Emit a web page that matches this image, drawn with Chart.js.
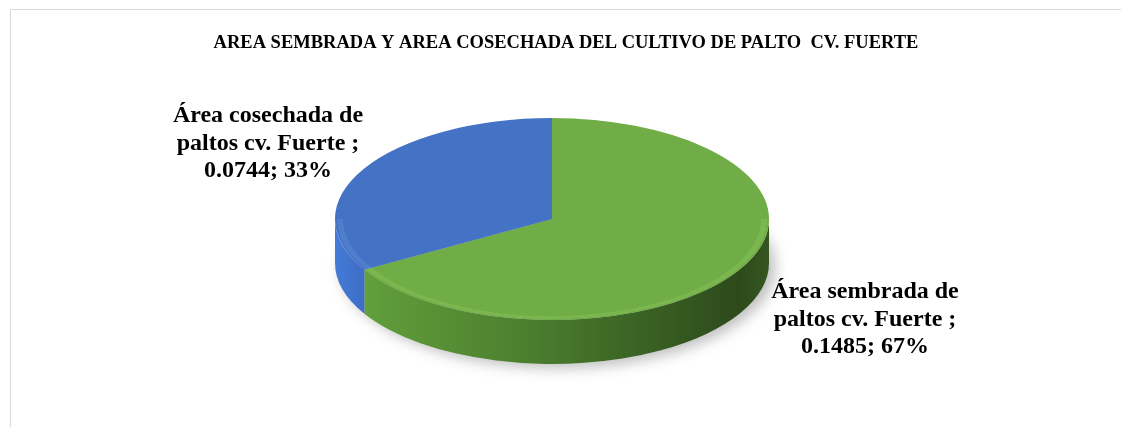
<!DOCTYPE html>
<html>
<head>
<meta charset="utf-8">
<script src="https://cdn.jsdelivr.net/npm/chart.js@4.4.1/dist/chart.umd.min.js"></script>
<style>
    body { margin: 0; background: #fff; }
    #marco { position: absolute; left: 10px; top: 9px; width: 1200px; height: 500px; border: 1px solid #d9d9d9; pointer-events: none; }
    #grafico { position: absolute; left: 0; top: 0; }
</style>
</head>
<body>
<canvas id="grafico" width="1121" height="427"></canvas>
<div id="marco"></div>
<script>
// datos
var titulo = 'AREA SEMBRADA Y AREA COSECHADA DEL CULTIVO DE PALTO  CV. FUERTE';
var categorias = ['Área sembrada de paltos cv. Fuerte', 'Área cosechada de paltos cv. Fuerte'];
var lineasCategoria = [['Área sembrada de', 'paltos cv. Fuerte ;'], ['Área cosechada de', 'paltos cv. Fuerte ;']];
var areas = [0.1485, 0.0744];
var colores = ['#70ad47', '#4472c4'];

// posiciones / estilo del "3D"
var centroX = 552, centroY = 219, aplastado = 0.465, profundidad = 44;
var posEtiquetas = [{ x: 865, y: 298 }, { x: 268, y: 122 }];

function gradienteLado(ctx, i, r) {
    var g = ctx.createLinearGradient(centroX - r, 0, centroX + r, 0);
    if (i === 0) {
        g.addColorStop(0, '#68a840');
        g.addColorStop(0.12, '#5e9a39');
        g.addColorStop(0.45, '#4b7e2e');
        g.addColorStop(0.75, '#385d22');
        g.addColorStop(0.93, '#2d4a1b');
        g.addColorStop(1, '#35561f');
    } else {
        g.addColorStop(0, '#447bd8');
        g.addColorStop(0.08, '#3c6bc2');
        g.addColorStop(1, '#2f5598');
    }
    return g;
}

function punto(a, r, dy) {
    return [centroX + r * Math.cos(a), centroY + r * aplastado * Math.sin(a) + dy];
}

// recorta [a0,a1] a la mitad frontal del pastel (0..PI)
function tramosFrente(a0, a1) {
    var res = [];
    for (var k = -1; k <= 1; k++) {
        var lo = Math.max(a0, 2 * Math.PI * k), hi = Math.min(a1, 2 * Math.PI * k + Math.PI);
        if (hi > lo) res.push([lo, hi]);
    }
    return res;
}

var pastel3d = {
    id: 'pastel3d',
    beforeDatasetsDraw: function(chart) {
        var ctx = chart.ctx;
        var arcos = chart.getDatasetMeta(0).data;
        var r = arcos[0].outerRadius;

        ctx.save();
        // sombra
        ctx.save();
        ctx.filter = 'blur(7px)';
        ctx.fillStyle = 'rgba(90,90,90,0.4)';
        ctx.beginPath();
        ctx.ellipse(centroX + 6, centroY + profundidad + 4, r, r * aplastado, 0, 0, 2 * Math.PI);
        ctx.fill();
        ctx.restore();

        // lados
        arcos.forEach(function(arco, i) {
            tramosFrente(arco.startAngle, arco.endAngle).forEach(function(t) {
                var p0 = punto(t[0], r, 0), p1 = punto(t[1], r, profundidad);
                ctx.beginPath();
                ctx.moveTo(p0[0], p0[1]);
                ctx.ellipse(centroX, centroY, r, r * aplastado, 0, t[0], t[1], false);
                ctx.lineTo(p1[0], p1[1]);
                ctx.ellipse(centroX, centroY + profundidad, r, r * aplastado, 0, t[1], t[0], true);
                ctx.closePath();
                ctx.fillStyle = gradienteLado(ctx, i, r);
                ctx.fill();
            });
        });

        // cara superior: se aplasta lo que dibuja Chart.js
        ctx.translate(centroX, centroY);
        ctx.scale(1, aplastado);
        ctx.translate(-arcos[0].x, -arcos[0].y);
    },
    afterDatasetsDraw: function(chart) {
        var ctx = chart.ctx;
        var arcos = chart.getDatasetMeta(0).data;
        // brillo del borde frontal
        arcos.forEach(function(arco, i) {
            tramosFrente(arco.startAngle, arco.endAngle).forEach(function(t) {
                ctx.beginPath();
                ctx.arc(arco.x, arco.y, arco.outerRadius - 5, t[0], t[1]);
                ctx.lineWidth = 6;
                ctx.strokeStyle = i === 0 ? 'rgba(150,210,100,0.3)' : 'rgba(120,160,230,0.25)';
                ctx.stroke();
            });
        });
        ctx.restore();
    },
    afterDraw: function(chart) {
        var ctx = chart.ctx;
        var total = areas.reduce(function(a, b) { return a + b; }, 0);
        ctx.save();
        ctx.fillStyle = '#000';
        ctx.textAlign = 'center';
        ctx.textBaseline = 'alphabetic';
        ctx.font = 'bold 18.5px "Liberation Serif", "Times New Roman", serif';
        ctx.fillText(titulo, 566, 48);

        ctx.font = 'bold 24px "Liberation Serif", "Times New Roman", serif';
        areas.forEach(function(v, i) {
            var lineas = lineasCategoria[i].concat([v.toFixed(4) + '; ' + Math.round(v / total * 100) + '%']);
            lineas.forEach(function(l, j) {
                ctx.fillText(l, posEtiquetas[i].x, posEtiquetas[i].y + j * 27.5);
            });
        });
        ctx.restore();
    }
};

new Chart(document.getElementById('grafico').getContext('2d'), {
    type: 'pie',
    data: {
        labels: categorias,
        datasets: [{
            data: areas,
            backgroundColor: colores,
            borderWidth: 0,
            radius: 217,
            clip: false
        }]
    },
    options: {
        responsive: false,
        animation: false,
        events: [],
        plugins: {
            legend: { display: false },
            tooltip: { enabled: false }
        }
    },
    plugins: [pastel3d]
});
</script>
</body>
</html>
